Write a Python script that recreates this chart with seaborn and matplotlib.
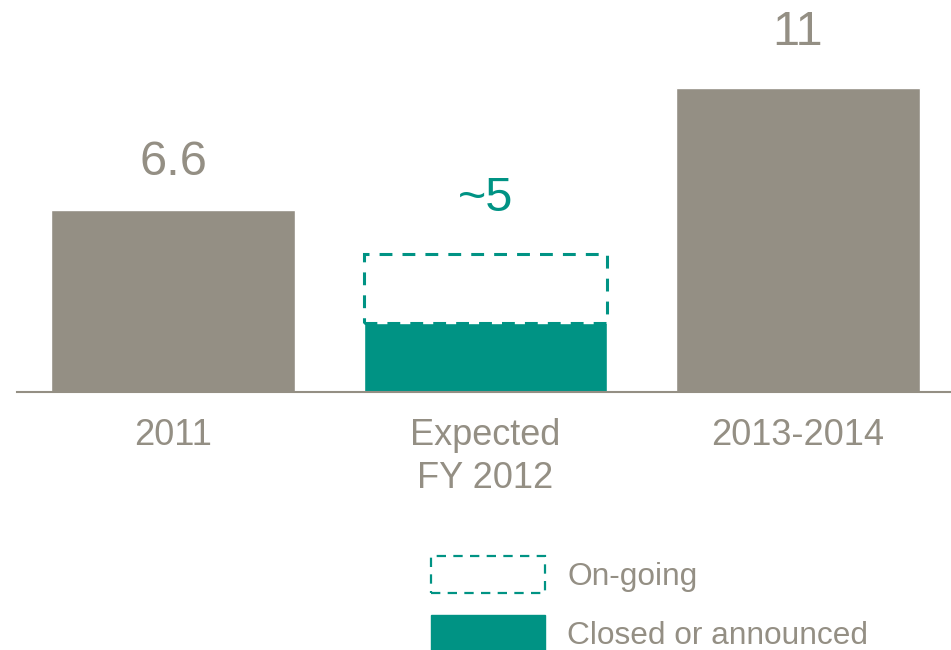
import matplotlib
matplotlib.use("Agg")
import matplotlib.pyplot as plt
import seaborn as sns
from matplotlib.patches import Patch

categories = ["2011", "Expected\nFY 2012", "2013-2014"]
totals = [6.6, 5, 11]
value_labels = ["6.6", "~5", "11"]
closed_category = ["Expected\nFY 2012"]
closed_values = [2.5]
legend_labels = ["On-going", "Closed or announced"]

grey = "#948f84"
teal = "#009384"
dash = (0, (4.2, 3.3))

sns.set_style("white")
plt.rcParams["font.family"] = ["Liberation Sans", "DejaVu Sans"]

fig = plt.figure(figsize=(9.51, 6.5), dpi=100)
ax = fig.add_axes([17 / 951, 1 - 392 / 650, 1 - 17 / 951, 392 / 650])

# totals: grey bars, the expected one is only a dashed outline
sns.barplot(x=categories, y=totals, hue=categories, palette=[grey, "white", grey],
            width=0.78, legend=False, ax=ax, saturation=1)
mid = ax.patches[1]

# closed or announced part of the expected bar
sns.barplot(x=closed_category, y=closed_values, order=categories, color=teal,
            width=0.78, ax=ax, saturation=1)

# on-going part sits on top of the closed part
mid.set_y(closed_values[0])
mid.set_height(totals[1] - closed_values[0])
mid.set_edgecolor(teal)
mid.set_linestyle(dash)
mid.set_linewidth(2.2)
mid.set_zorder(5)

label_colors = [grey, teal, grey]
label_offsets = [34, 40, 40]
for i, (v, lab) in enumerate(zip(totals, value_labels)):
    ax.annotate(lab, (i, v), xytext=(0, label_offsets[i]), textcoords="offset points",
                ha="center", va="center", fontsize=35, color=label_colors[i])

ax.set_xlim(-0.5, 2.49)
ax.set_ylim(0, 392 / 27.6)
ax.set_yticks([])
ax.set_xlabel("")
ax.set_ylabel("")
ax.tick_params(axis="x", length=0, pad=19, labelsize=26, labelcolor=grey)
for t in ax.get_xticklabels():
    t.set_linespacing(1.3)
for s in ["left", "right", "top"]:
    ax.spines[s].set_visible(False)
ax.spines["bottom"].set_color(grey)
ax.spines["bottom"].set_linewidth(1.5)

handles = [Patch(facecolor="white", edgecolor=teal, linestyle=dash, linewidth=1.6),
           Patch(facecolor=teal, edgecolor=teal)]
leg = fig.legend(handles, legend_labels, loc="upper left",
                 bbox_to_anchor=(431 / 951, 1 - 556 / 650), frameon=False,
                 fontsize=22.8, handlelength=3.6, handleheight=1.42,
                 handletextpad=0.7, labelspacing=0.68, borderpad=0, borderaxespad=0)
for t in leg.get_texts():
    t.set_color(grey)

fig.savefig("out.png", dpi=100)
